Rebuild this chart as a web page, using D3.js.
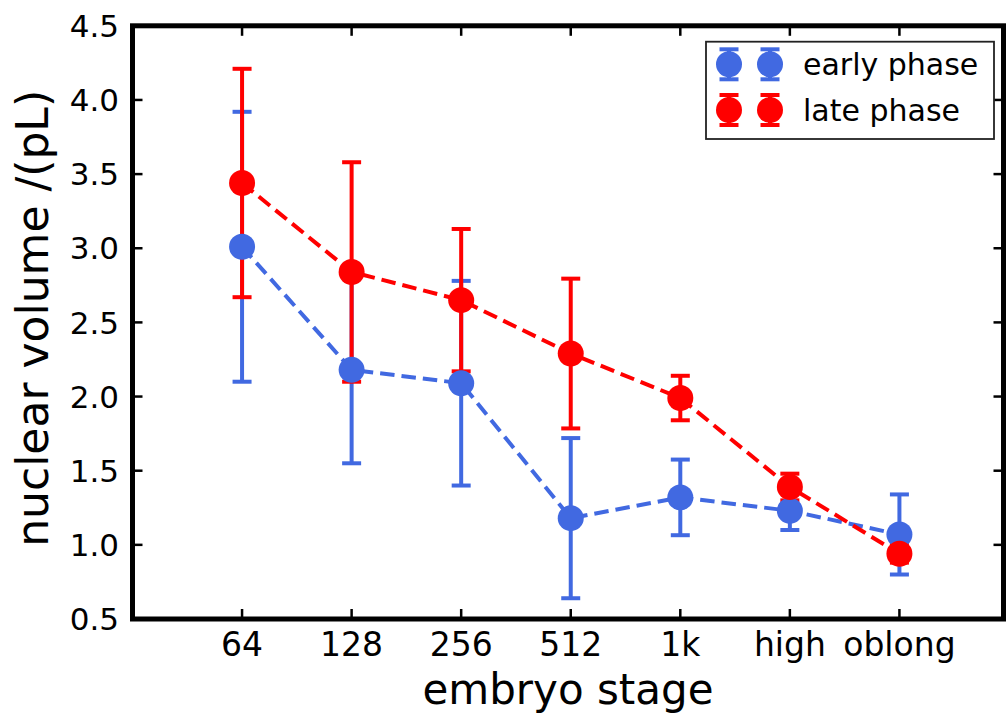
<!DOCTYPE html>
<html>
<head>
<meta charset="utf-8">
<script src="https://cdn.jsdelivr.net/npm/d3@7"></script>
<style>
  html, body { margin: 0; padding: 0; background: #fff; }
  svg text { font-family: "DejaVu Sans", sans-serif; fill: #000; }
</style>
</head>
<body>
<div id="chart"></div>
<script>
const width = 1006;
const height = 718;

// data
const stages = ["64", "128", "256", "512", "1k", "high", "oblong"];
const earlyMean = [3.01, 2.18, 2.09, 1.18, 1.32, 1.23, 1.07];
const earlyErr = [0.91, 0.63, 0.69, 0.54, 0.255, 0.13, 0.27];
const lateMean = [3.44, 2.84, 2.65, 2.29, 1.99, 1.39, 0.94];
const lateErr = [0.77, 0.74, 0.48, 0.505, 0.15, 0.09, 0.06];
const yTicks = [0.5, 1.0, 1.5, 2.0, 2.5, 3.0, 3.5, 4.0, 4.5];

const blue = "#4169E1";
const red = "#FF0000";

const series = [
    { name: "early phase", color: blue, mean: earlyMean, err: earlyErr },
    { name: "late phase", color: red, mean: lateMean, err: lateErr }
];

const plotLeft = 132.5, plotRight = 1003.5, plotTop = 25.8, plotBottom = 619;

const x = d3.scaleLinear().domain([0, 7.95]).range([plotLeft, plotRight]);
const y = d3.scaleLinear().domain([0.5, 4.5]).range([plotBottom, plotTop]);

const svg = d3.select("#chart")
    .append("svg")
    .attr("width", width)
    .attr("height", height);

const markerR = 13;
const capHalf = 9.5;

// error bars
series.forEach(s => {
    const g = svg.append("g");
    s.mean.forEach((m, i) => {
        const cx = x(i + 1);
        g.append("line")
            .attr("x1", cx).attr("x2", cx)
            .attr("y1", y(m - s.err[i])).attr("y2", y(m + s.err[i]))
            .attr("stroke", s.color).attr("stroke-width", 4);
        [m - s.err[i], m + s.err[i]].forEach(v => {
            g.append("line")
                .attr("x1", cx - capHalf).attr("x2", cx + capHalf)
                .attr("y1", y(v)).attr("y2", y(v))
                .attr("stroke", s.color).attr("stroke-width", 4);
        });
    });
});

// dashed lines
const line = d3.line()
    .x((d, i) => x(i + 1))
    .y(d => y(d));

series.forEach(s => {
    svg.append("path")
        .attr("d", line(s.mean))
        .attr("fill", "none")
        .attr("stroke", s.color)
        .attr("stroke-width", 4)
        .attr("stroke-dasharray", "14.5,7");
});

// markers
series.forEach(s => {
    svg.append("g").selectAll("circle")
        .data(s.mean)
        .join("circle")
        .attr("cx", (d, i) => x(i + 1))
        .attr("cy", d => y(d))
        .attr("r", markerR)
        .attr("fill", s.color);
});

// ticks (inward, all four sides)
const tickLen = 10;
const ticks = svg.append("g").attr("stroke", "#000").attr("stroke-width", 2.5);
stages.forEach((s, i) => {
    const tx = x(i + 1);
    ticks.append("line").attr("x1", tx).attr("x2", tx).attr("y1", plotBottom).attr("y2", plotBottom - tickLen);
    ticks.append("line").attr("x1", tx).attr("x2", tx).attr("y1", plotTop).attr("y2", plotTop + tickLen);
});
yTicks.forEach(v => {
    const ty = y(v);
    ticks.append("line").attr("x1", plotLeft).attr("x2", plotLeft + tickLen).attr("y1", ty).attr("y2", ty);
    ticks.append("line").attr("x1", plotRight).attr("x2", plotRight - tickLen).attr("y1", ty).attr("y2", ty);
});

// frame
svg.append("rect")
    .attr("x", plotLeft).attr("y", plotTop)
    .attr("width", plotRight - plotLeft).attr("height", plotBottom - plotTop)
    .attr("fill", "none")
    .attr("stroke", "#000")
    .attr("stroke-width", 5);

// tick labels
svg.append("g").selectAll("text")
    .data(stages)
    .join("text")
    .attr("x", (d, i) => x(i + 1))
    .attr("y", 656)
    .attr("text-anchor", "middle")
    .style("font-size", "33px")
    .text(d => d);

svg.append("g").selectAll("text")
    .data(yTicks)
    .join("text")
    .attr("x", 119)
    .attr("y", d => y(d))
    .attr("dy", "0.36em")
    .attr("text-anchor", "end")
    .style("font-size", "31px")
    .text(d => d.toFixed(1));

// axis titles
svg.append("text")
    .attr("x", (plotLeft + plotRight) / 2)
    .attr("y", 704)
    .attr("text-anchor", "middle")
    .style("font-size", "42px")
    .text("embryo stage");

svg.append("text")
    .attr("transform", `translate(48,${(plotTop + plotBottom) / 2 - 4}) rotate(-90)`)
    .attr("text-anchor", "middle")
    .style("font-size", "44px")
    .text("nuclear volume /(pL)");

// legend
const legend = svg.append("g");
legend.append("rect")
    .attr("x", 706).attr("y", 41.7)
    .attr("width", 288).attr("height", 97.3)
    .attr("fill", "#fff")
    .attr("stroke", "#222")
    .attr("stroke-width", 1.8);

const rowY = [64.3, 110];
series.forEach((s, k) => {
    const ry = rowY[k];
    [729, 770].forEach(lx => {
        legend.append("line")
            .attr("x1", lx).attr("x2", lx)
            .attr("y1", ry - 15).attr("y2", ry + 15)
            .attr("stroke", s.color).attr("stroke-width", 4);
        [ry - 15, ry + 15].forEach(cy => {
            legend.append("line")
                .attr("x1", lx - capHalf).attr("x2", lx + capHalf)
                .attr("y1", cy).attr("y2", cy)
                .attr("stroke", s.color).attr("stroke-width", 4);
        });
        legend.append("circle")
            .attr("cx", lx).attr("cy", ry)
            .attr("r", markerR)
            .attr("fill", s.color);
    });
    legend.append("text")
        .attr("x", 803)
        .attr("y", ry)
        .attr("dy", "0.36em")
        .style("font-size", "30px")
        .text(s.name);
});
</script>
</body>
</html>
